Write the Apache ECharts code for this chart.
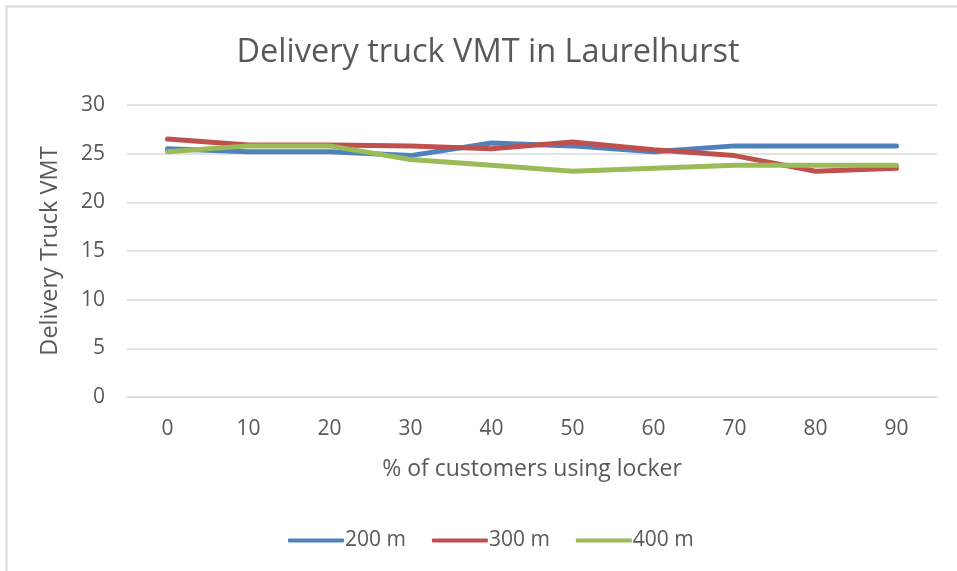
<!DOCTYPE html>
<html><head><meta charset="utf-8">
<script src="https://cdn.jsdelivr.net/npm/echarts@6/dist/echarts.min.js"></script>
<style>html,body{margin:0;padding:0;background:#fff}#c{width:957px;height:571px}</style>
</head><body><div id="c"></div>
<script>
const categories = ['0','10','20','30','40','50','60','70','80','90'];
const s200 = [25.5, 25.2, 25.2, 24.8, 26.1, 25.8, 25.2, 25.8, 25.8, 25.8];
const s300 = [26.5, 25.9, 25.9, 25.8, 25.5, 26.2, 25.4, 24.8, 23.2, 23.5];
const s400 = [25.2, 25.8, 25.8, 24.4, 23.8, 23.2, 23.5, 23.8, 23.8, 23.8];
const yTicks = [0, 5, 10, 15, 20, 25, 30];

const font = '"Open Sans", sans-serif';
const txt = '#595959';
const chart = echarts.init(document.getElementById('c'));
chart.setOption({
  animation: false,
  title: { text: 'Delivery truck VMT in Laurelhurst', left: 483, top: 31, textAlign: 'center',
    textStyle: { fontFamily: font, fontSize: 32.5, fontWeight: 'normal', color: txt } },
  graphic: [{ type: 'polyline', shape: { points: [[6.5, 580], [6.5, 6.5], [970, 6.5]] },
    style: { stroke: '#d9d9d9', lineWidth: 2, fill: null }, silent: true }],
  grid: { left: 127, right: 20, top: 105, bottom: 174 },
  legend: { top: 525, left: 283, itemWidth: 56, itemHeight: 4, itemGap: 26,
    icon: 'roundRect',
    textStyle: { fontFamily: font, fontSize: 21, color: txt, padding: [0, 0, 0, -4] },
    data: ['200 m', '300 m', '400 m'] },
  xAxis: { type: 'category', data: categories, boundaryGap: true,
    name: '% of customers using locker', nameLocation: 'middle', nameGap: 61,
    nameTextStyle: { fontFamily: font, fontSize: 23, color: txt },
    axisLine: { lineStyle: { color: '#d9d9d9' } }, axisTick: { show: false },
    axisLabel: { fontFamily: font, fontSize: 21, color: txt, margin: 22 } },
  yAxis: { type: 'value', min: 0, max: 30, interval: 5,
    name: 'Delivery Truck VMT', nameLocation: 'middle', nameGap: 65, nameRotate: 90,
    nameTextStyle: { fontFamily: font, fontSize: 23.5, color: txt },
    axisLine: { show: false }, axisTick: { show: false },
    axisLabel: { fontFamily: font, fontSize: 21, color: txt, margin: 22,
      formatter: v => yTicks.includes(v) ? String(v) : '' },
    splitLine: { lineStyle: { color: '#d9d9d9', width: 1.5 } } },
  series: [
    { name: '200 m', type: 'line', data: s200, symbol: 'none', color: '#4f81bd',
      lineStyle: { width: 5, cap: 'round', join: 'round' } },
    { name: '300 m', type: 'line', data: s300, symbol: 'none', color: '#c0504d',
      lineStyle: { width: 5, cap: 'round', join: 'round' } },
    { name: '400 m', type: 'line', data: s400, symbol: 'none', color: '#9bbb59',
      lineStyle: { width: 5, cap: 'round', join: 'round' } }
  ]
});
</script></body></html>
